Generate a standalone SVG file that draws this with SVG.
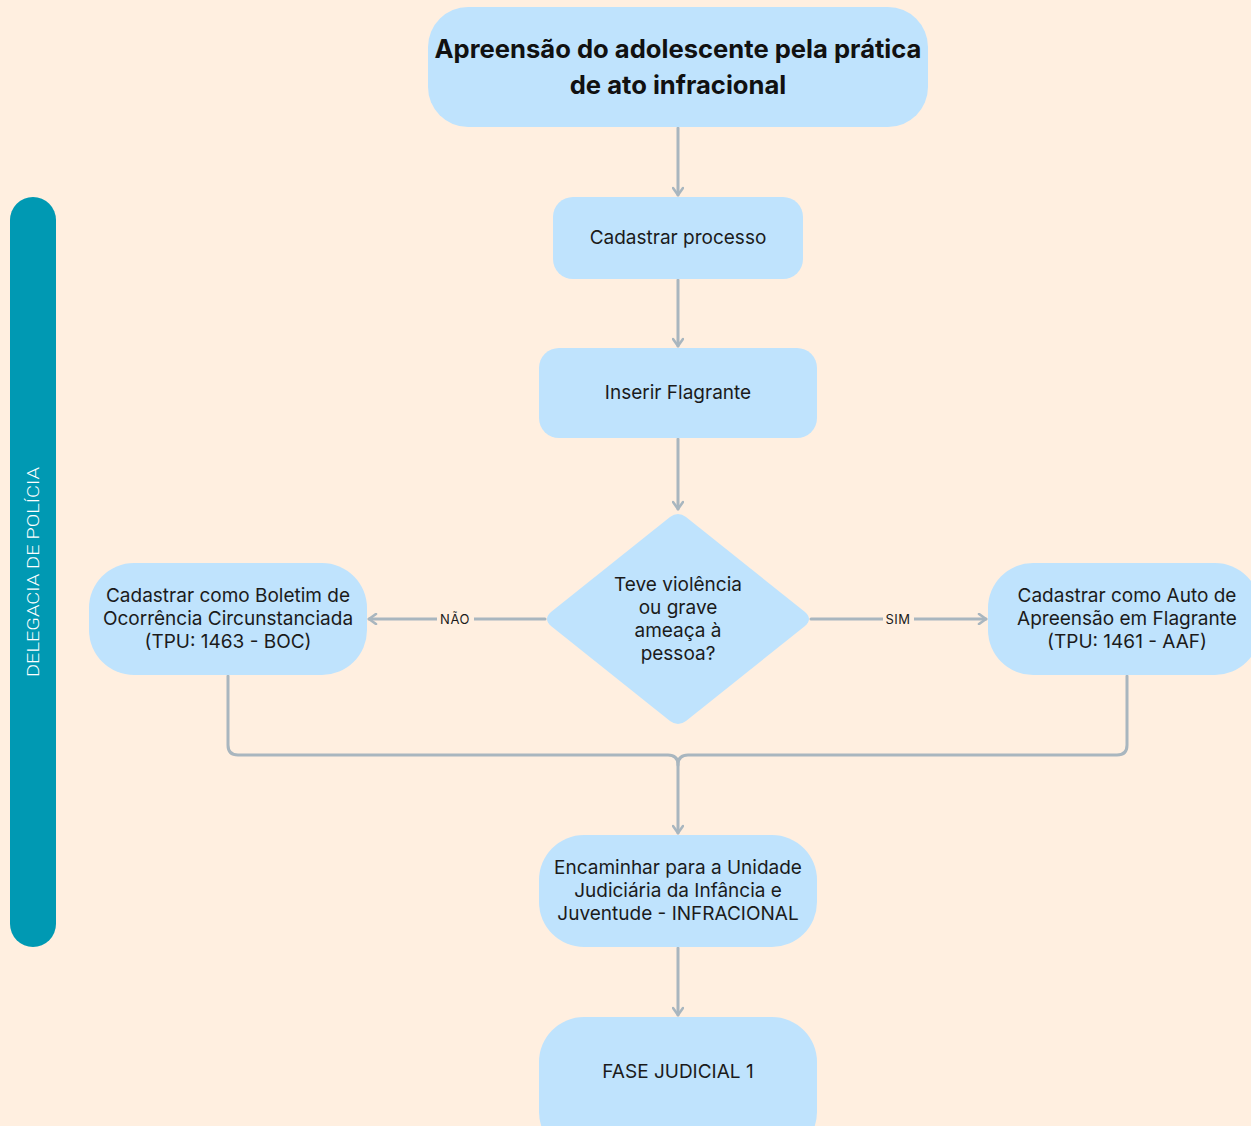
<svg xmlns="http://www.w3.org/2000/svg" width="1251" height="1126" viewBox="0 0 1251 1126">
<defs>
<style>
.node{fill:#BFE3FD;}
.t{font-family:Inter,"DejaVu Sans",sans-serif;font-size:19px;fill:#1b1b1b;text-anchor:middle;}
.title{font-family:Inter,"DejaVu Sans",sans-serif;font-size:25.6px;font-weight:700;fill:#111;text-anchor:middle;}
.lbl{font-family:Inter,"DejaVu Sans",sans-serif;font-size:13px;fill:#1b1b1b;text-anchor:middle;letter-spacing:0.5px;}
.c{fill:none;stroke:#A9B6BF;stroke-width:3;stroke-linecap:round;stroke-linejoin:round;}
</style>
<marker id="ah" viewBox="0 0 12 12" refX="10" refY="6" markerWidth="12" markerHeight="12" markerUnits="userSpaceOnUse" orient="auto">
<path d="M3,1 L10,6 L3,11" fill="none" stroke="#A9B6BF" stroke-width="2.6" stroke-linecap="round" stroke-linejoin="round"/>
</marker>
</defs>
<rect width="1251" height="1126" fill="#FFEFE0"/>

<g id="lane">
<rect x="10" y="197" width="46" height="750" rx="23" fill="#0099B3"/>
<text transform="translate(39,572) rotate(-90)" font-family="Roboto,'DejaVu Sans',sans-serif" font-weight="300" font-size="17" fill="#ffffff" text-anchor="middle" textLength="210" lengthAdjust="spacingAndGlyphs">DELEGACIA DE POLÍCIA</text>
</g>

<g id="connectors">
<path class="c" d="M678,128 V195" marker-end="url(#ah)"/>
<path class="c" d="M678,280 V346" marker-end="url(#ah)"/>
<path class="c" d="M678,439 V509" marker-end="url(#ah)"/>
<path class="c" d="M545,619 H369" marker-end="url(#ah)"/>
<path class="c" d="M811,619 H986" marker-end="url(#ah)"/>
<path class="c" d="M228,676 V745 Q228,755 238,755 H668 Q678,755 678,765 V833" marker-end="url(#ah)"/>
<path class="c" d="M1127,676 V745 Q1127,755 1117,755 H688 Q678,755 678,765"/>
<path class="c" d="M678,948 V1015" marker-end="url(#ah)"/>
<rect x="437" y="610" width="37" height="18" fill="#FFEFE0"/>
<text class="lbl" x="455" y="624">NÃO</text>
<rect x="883" y="610" width="31" height="18" fill="#FFEFE0"/>
<text class="lbl" x="898" y="624">SIM</text>
</g>

<g id="n-start">
<rect class="node" x="428" y="7" width="500" height="120" rx="40"/>
<text class="title" x="678" y="58">Apreensão do adolescente pela prática</text>
<text class="title" x="678" y="94">de ato infracional</text>
</g>

<g id="n-cadastrar">
<rect class="node" x="553" y="197" width="250" height="82" rx="20"/>
<text class="t" x="678" y="244">Cadastrar processo</text>
</g>

<g id="n-inserir">
<rect class="node" x="539" y="348" width="278" height="90" rx="20"/>
<text class="t" x="678" y="399">Inserir Flagrante</text>
</g>

<g id="n-decisao">
<path class="node" d="M670,517 Q678,511 686,517 L805,612 Q813,619 805,626 L686,721 Q678,727 670,721 L551,626 Q543,619 551,612 Z"/>
<text class="t" x="678" y="591">Teve violência</text>
<text class="t" x="678" y="614">ou grave</text>
<text class="t" x="678" y="637">ameaça à</text>
<text class="t" x="678" y="660">pessoa?</text>
</g>

<g id="n-boc">
<rect class="node" x="89" y="563" width="278" height="112" rx="45"/>
<text class="t" x="228" y="602">Cadastrar como Boletim de</text>
<text class="t" x="228" y="625">Ocorrência Circunstanciada</text>
<text class="t" x="228" y="648">(TPU: 1463 - BOC)</text>
</g>

<g id="n-aaf">
<rect class="node" x="988" y="563" width="272" height="112" rx="45"/>
<text class="t" x="1127" y="602">Cadastrar como Auto de</text>
<text class="t" x="1127" y="625">Apreensão em Flagrante</text>
<text class="t" x="1127" y="648">(TPU: 1461 - AAF)</text>
</g>

<g id="n-encaminhar">
<rect class="node" x="539" y="835" width="278" height="112" rx="45"/>
<text class="t" x="678" y="874">Encaminhar para a Unidade</text>
<text class="t" x="678" y="897">Judiciária da Infância e</text>
<text class="t" x="678" y="920">Juventude - INFRACIONAL</text>
</g>

<g id="n-fase">
<rect class="node" x="539" y="1017" width="278" height="140" rx="45"/>
<text class="t" x="678" y="1078">FASE JUDICIAL 1</text>
</g>
</svg>
